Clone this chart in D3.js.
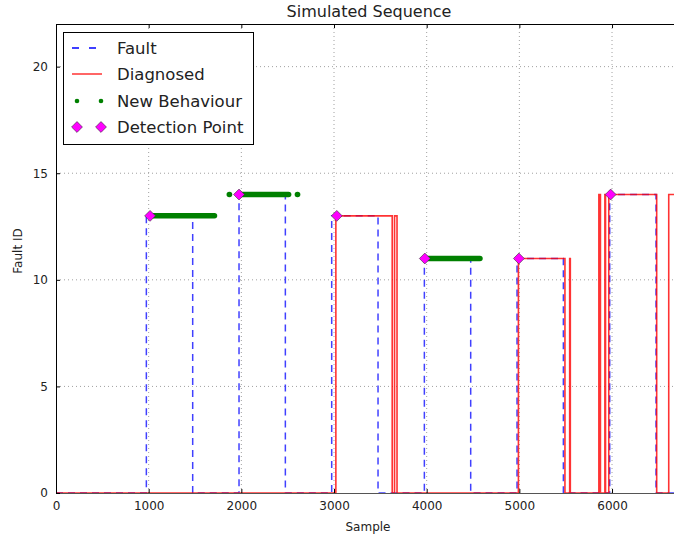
<!DOCTYPE html>
<meta charset="utf-8">
<style>
    body { margin: 0; background: #fff; }
    svg { display: block; font-family: "DejaVu Sans", sans-serif; }
    .tick text { fill: #222; }
</style>
<svg width="674" height="539"></svg>
<script src="https://cdn.jsdelivr.net/npm/d3@7"></script>
<script>

    // step points (sample where the level changes, new level)
    var faultSample = [0, 975, 1475, 1975, 2475, 2975, 3475, 3975, 4475, 4975, 5475, 5975, 6475, 7000];
    var faultId     = [0, 13,  0,    14,   0,    13,   0,    11,   0,    11,   0,    14,   0,    0];

    var diagSample = [0, 3020, 3628, 3653, 3680, 4990, 5492, 5543, 5550, 5858, 5875, 5923, 5930, 5965, 6482, 6612, 7000];
    var diagId     = [0, 13,   0,    13,   0,    11,   0,    11,   0,    14,   0,    14,   0,    14,   0,    14,   14];

    // new behaviour runs: start sample, end sample, fault id
    var newStart = [1020, 1870, 1965, 2605, 3980];
    var newEnd   = [1710, 1872, 2510, 2607, 4575];
    var newId    = [13,   14,   14,   14,   11];

    var detectSample = [1015, 1975, 3030, 3980, 4995, 5985];
    var detectId     = [13,   14,   13,   11,   11,   14];

    var xTicks = [0, 1000, 2000, 3000, 4000, 5000, 6000];
    var yTicks = [0, 5, 10, 15, 20];

    var svg = d3.select("svg"),
        margin = {top: 24, left: 56, bottom: 46};

    var plotH = +svg.attr("height") - margin.top - margin.bottom;

    var x = d3.scaleLinear().domain([0, 7000]).range([margin.left, margin.left + 92.67 * 7]),
        y = d3.scaleLinear().domain([0, 22]).range([margin.top + plotH, margin.top]);

    svg.append("clipPath").attr("id", "clip")
        .append("rect")
        .attr("x", margin.left).attr("y", margin.top)
        .attr("width", 700).attr("height", plotH);

    // grid
    var grid = svg.append("g").attr("stroke", "#a0a0a0").attr("stroke-dasharray", "1,3");
    grid.selectAll(".gx").data(xTicks.slice(1)).enter().append("line")
        .attr("x1", function(d) { return x(d); }).attr("x2", function(d) { return x(d); })
        .attr("y1", y(0)).attr("y2", y(22));
    grid.selectAll(".gy").data(yTicks.slice(1)).enter().append("line")
        .attr("x1", x(0)).attr("x2", x(7000))
        .attr("y1", function(d) { return y(d); }).attr("y2", function(d) { return y(d); });

    var plot = svg.append("g").attr("clip-path", "url(#clip)");

    var step = d3.line()
        .x(function(d) { return x(d[0]); })
        .y(function(d) { return y(d[1]); })
        .curve(d3.curveStepAfter);

    plot.append("path")
        .datum(d3.zip(faultSample, faultId))
        .attr("d", step)
        .attr("fill", "none")
        .attr("stroke", "#0000ff")
        .attr("stroke-opacity", 0.75)
        .attr("stroke-width", 1.5)
        .attr("stroke-dasharray", "7,5");

    plot.append("path")
        .datum(d3.zip(diagSample, diagId))
        .attr("d", step)
        .attr("fill", "none")
        .attr("stroke", "#ff0000")
        .attr("stroke-opacity", 0.8)
        .attr("stroke-width", 1.6);

    plot.selectAll(".nb")
        .data(d3.zip(newStart, newEnd, newId))
        .enter().append("line")
        .attr("x1", function(d) { return x(d[0]); })
        .attr("x2", function(d) { return x(d[1]); })
        .attr("y1", function(d) { return y(d[2]); })
        .attr("y2", function(d) { return y(d[2]); })
        .attr("stroke", "#008000")
        .attr("stroke-width", 5.5)
        .attr("stroke-linecap", "round");

    var diamond = d3.symbol().type(d3.symbolDiamond2).size(75);

    plot.selectAll(".dp")
        .data(d3.zip(detectSample, detectId))
        .enter().append("path")
        .attr("d", diamond)
        .attr("transform", function(d) { return "translate(" + x(d[0]) + "," + y(d[1]) + ")"; })
        .attr("fill", "#ff00ff")
        .attr("stroke", "#333")
        .attr("stroke-width", 0.6);

    // axes
    var xAxis = svg.append("g")
        .attr("transform", "translate(0," + y(0) + ")")
        .call(d3.axisBottom(x).tickValues(xTicks).tickFormat(d3.format("d")).tickSizeInner(-4).tickSizeOuter(0).tickPadding(8));
    var xTop = svg.append("g")
        .attr("transform", "translate(0," + y(22) + ")")
        .call(d3.axisTop(x).tickValues(xTicks).tickFormat("").tickSizeInner(-4).tickSizeOuter(0));
    var yAxis = svg.append("g")
        .attr("transform", "translate(" + x(0) + ",0)")
        .call(d3.axisLeft(y).tickValues(yTicks).tickSizeInner(-4).tickSizeOuter(0).tickPadding(8));

    [xAxis, xTop, yAxis].forEach(function(a) {
        a.selectAll(".domain").attr("stroke", "#000").attr("stroke-width", 1);
        a.selectAll("text").attr("font-size", 12).attr("font-family", "DejaVu Sans");
    });
    xAxis.select(".domain").attr("stroke", "#555");

    svg.append("text")
        .attr("x", 369).attr("y", 17)
        .attr("text-anchor", "middle")
        .attr("font-size", 16)
        .attr("fill", "#222")
        .text("Simulated Sequence");

    svg.append("text")
        .attr("x", 368).attr("y", 531)
        .attr("text-anchor", "middle")
        .attr("font-size", 12)
        .attr("fill", "#222")
        .text("Sample");

    svg.append("text")
        .attr("transform", "translate(22,251) rotate(-90)")
        .attr("text-anchor", "middle")
        .attr("font-size", 12)
        .attr("fill", "#222")
        .text("Fault ID");

    // legend
    var legend = svg.append("g");
    legend.append("rect")
        .attr("x", 63.5).attr("y", 32.5).attr("width", 190).attr("height", 112)
        .attr("fill", "#fff").attr("stroke", "#000").attr("stroke-width", 1);

    var names = ["Fault", "Diagnosed", "New Behaviour", "Detection Point"],
        rowY = [48, 74, 101, 127];

    legend.selectAll(".lt").data(names).enter().append("text")
        .attr("x", 117)
        .attr("y", function(d, i) { return rowY[i]; })
        .attr("dy", "0.36em")
        .attr("font-size", 16.5)
        .attr("fill", "#222")
        .text(function(d) { return d; });

    legend.append("line").attr("x1", 72).attr("x2", 102).attr("y1", rowY[0]).attr("y2", rowY[0])
        .attr("stroke", "#0000ff").attr("stroke-width", 1.5).attr("stroke-dasharray", "7,10");
    legend.append("line").attr("x1", 72).attr("x2", 102).attr("y1", rowY[1]).attr("y2", rowY[1])
        .attr("stroke", "#ff0000").attr("stroke-opacity", 0.8).attr("stroke-width", 1.5);
    [77, 101].forEach(function(cx) {
        legend.append("circle").attr("cx", cx).attr("cy", rowY[2]).attr("r", 2.3).attr("fill", "#008000");
        legend.append("path").attr("d", diamond)
            .attr("transform", "translate(" + cx + "," + rowY[3] + ")")
            .attr("fill", "#ff00ff").attr("stroke", "#333").attr("stroke-width", 0.6);
    });
</script>
